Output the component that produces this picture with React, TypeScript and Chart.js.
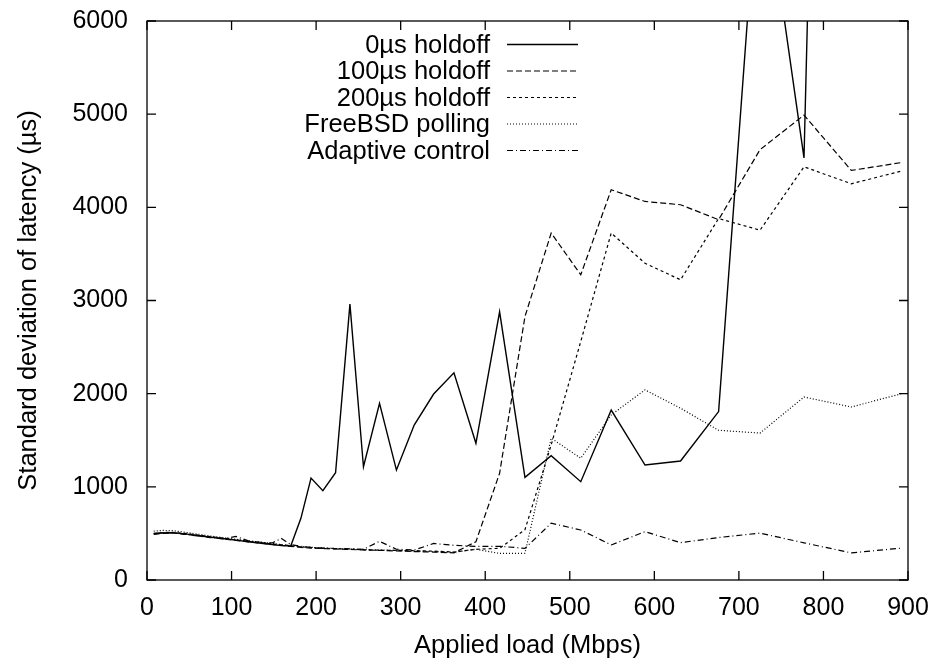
import React, { useEffect, useRef } from "react";
import { Chart, registerables } from "chart.js";

Chart.register(...registerables);

// Applied load (Mbps)
const loads = [8, 18, 30, 45, 60, 75, 90, 105, 120, 135, 148, 159, 170, 182, 194, 208, 223, 240, 256, 275, 295, 316, 339, 363, 389, 417, 447, 478, 513, 549, 589, 631, 676, 725, 777, 833, 892];

// Standard deviation of latency (µs)
const holdoff0 = [495, 505, 508, 495, 478, 460, 445, 428, 410, 395, 380, 370, 365, 662, 1094, 958, 1151, 2961, 1216, 1896, 1180, 1663, 1996, 2224, 1467, 2879, 1102, 1334, 1055, 1824, 1234, 1277, 1808, 7850, 4530, 25000, 30000];
const holdoff100 = [490, 500, 505, 492, 475, 458, 442, 425, 410, 395, 382, 372, 360, 350, 342, 338, 333, 328, 322, 318, 312, 305, 300, 292, 411, 1146, 2828, 3724, 3276, 4189, 4063, 4028, 3867, 4619, 4990, 4396, 4480];
const holdoff200 = [500, 510, 512, 500, 482, 465, 448, 430, 415, 400, 388, 378, 368, 356, 348, 340, 335, 330, 325, 320, 318, 315, 310, 300, 330, 340, 540, 1450, 2560, 3724, 3400, 3222, 3880, 3755, 4435, 4253, 4389];
const freebsdPolling = [525, 532, 530, 512, 492, 472, 455, 438, 420, 405, 392, 380, 368, 358, 350, 345, 338, 332, 328, 322, 318, 312, 305, 298, 330, 285, 287, 1522, 1307, 1772, 2041, 1844, 1607, 1577, 1964, 1857, 1999];
const adaptive = [498, 508, 505, 490, 472, 455, 440, 468, 420, 405, 398, 445, 380, 362, 350, 342, 338, 335, 330, 415, 330, 322, 392, 372, 360, 362, 340, 609, 537, 376, 519, 401, 456, 503, 399, 291, 342];

const seriesNames = ["0\u00b5s holdoff", "100\u00b5s holdoff", "200\u00b5s holdoff", "FreeBSD polling", "Adaptive control"];
const seriesValues = [holdoff0, holdoff100, holdoff200, freebsdPolling, adaptive];
const seriesDash: number[][] = [[], [6, 3], [3, 3], [1, 2], [6, 3, 1, 3]];
const seriesWidth = [1.4, 1.2, 1.2, 1.2, 1.2];

const xTitle = "Applied load (Mbps)";
const yTitle = "Standard deviation of latency (\u00b5s)";
const xMin = 0, xMax = 900, xStep = 100;
const yMin = 0, yMax = 6000, yStep = 1000;

const FONT = "'Liberation Sans', Arial, Helvetica, sans-serif";

const decorPlugin = {
  id: "decor",
  afterDatasetsDraw(chart: any) {
    const { ctx, chartArea: a, scales } = chart;
    ctx.save();
    ctx.strokeStyle = "#000";
    ctx.fillStyle = "#000";
    ctx.setLineDash([]);
    ctx.lineWidth = 1.3;
    // frame
    ctx.strokeRect(a.left, a.top, a.right - a.left, a.bottom - a.top);
    // inward ticks on all sides
    const tl = 9;
    ctx.beginPath();
    for (const t of scales.x.ticks) {
      const px = scales.x.getPixelForValue(t.value);
      ctx.moveTo(px, a.bottom);
      ctx.lineTo(px, a.bottom - tl);
      ctx.moveTo(px, a.top);
      ctx.lineTo(px, a.top + tl);
    }
    for (const t of scales.y.ticks) {
      const py = scales.y.getPixelForValue(t.value);
      ctx.moveTo(a.left, py);
      ctx.lineTo(a.left + tl, py);
      ctx.moveTo(a.right, py);
      ctx.lineTo(a.right - tl, py);
    }
    ctx.stroke();

    // legend
    ctx.font = `25.5px ${FONT}`;
    ctx.textAlign = "right";
    ctx.textBaseline = "middle";
    seriesNames.forEach((name, i) => {
      const y = 44.5 + i * 26.5;
      ctx.fillText(name, 490, y + 1);
      ctx.beginPath();
      ctx.lineWidth = seriesWidth[i];
      ctx.setLineDash(seriesDash[i]);
      ctx.moveTo(507, y);
      ctx.lineTo(578, y);
      ctx.stroke();
    });
    ctx.setLineDash([]);

    // axis titles
    ctx.textAlign = "center";
    ctx.textBaseline = "alphabetic";
    ctx.fillText(xTitle, (a.left + a.right) / 2, 653);
    ctx.save();
    ctx.translate(29, (a.top + a.bottom) / 2);
    ctx.rotate(-Math.PI / 2);
    ctx.textBaseline = "middle";
    ctx.fillText(yTitle, 0, 0);
    ctx.restore();

    ctx.restore();
  },
};

const zeroPad = (s: any) => {
  s.paddingTop = 0;
  s.paddingBottom = 0;
  s.paddingLeft = 0;
  s.paddingRight = 0;
};

export default function App() {
  const canvasRef = useRef<HTMLCanvasElement | null>(null);

  useEffect(() => {
    if (!canvasRef.current) return;
    const datasets = seriesNames.map((name, i) => ({
      label: name,
      data: loads.map((x, j) => ({ x, y: seriesValues[i][j] })),
      borderColor: "#000",
      backgroundColor: "#000",
      borderWidth: seriesWidth[i],
      borderDash: seriesDash[i],
      pointRadius: 0,
      fill: false,
      tension: 0,
      clip: 0,
    }));
    const chart = new Chart(canvasRef.current, {
      type: "line",
      data: { datasets },
      options: {
        animation: false,
        responsive: false,
        layout: { padding: { top: 21, right: 27, left: 0, bottom: 0 } },
        plugins: { legend: { display: false }, tooltip: { enabled: false } },
        scales: {
          x: {
            type: "linear",
            min: xMin,
            max: xMax,
            ticks: { stepSize: xStep, color: "#000", font: { family: FONT, size: 25 }, padding: 13, maxRotation: 0, autoSkip: false, callback: (v: any) => String(v) },
            grid: { display: false, drawTicks: false },
            border: { display: false },
            afterFit: (s: any) => { s.height = 80; zeroPad(s); },
          },
          y: {
            type: "linear",
            min: yMin,
            max: yMax,
            ticks: { stepSize: yStep, color: "#000", font: { family: FONT, size: 25 }, padding: 19, callback: (v: any) => String(v) },
            grid: { display: false, drawTicks: false },
            border: { display: false },
            afterFit: (s: any) => { s.width = 147; zeroPad(s); },
          },
        },
      } as any,
      plugins: [decorPlugin],
    });
    return () => chart.destroy();
  }, []);

  return (
    <div style={{ position: "fixed", left: 0, top: 0, width: 935, height: 660, background: "#fff" }}>
      <canvas ref={canvasRef} width={935} height={660} style={{ display: "block" }} />
    </div>
  );
}
